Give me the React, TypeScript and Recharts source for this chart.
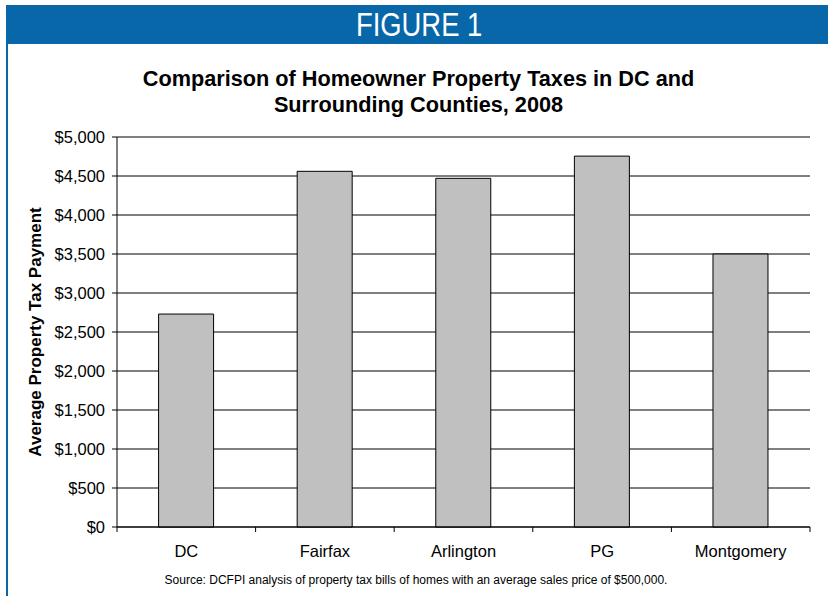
import React from 'react';
import { BarChart, Bar, XAxis, YAxis, CartesianGrid, Label } from 'recharts';

const counties: string[] = ['DC', 'Fairfax', 'Arlington', 'PG', 'Montgomery'];
const taxPayments: number[] = [2730, 4560, 4470, 4755, 3500];
const yTicks: number[] = [0, 500, 1000, 1500, 2000, 2500, 3000, 3500, 4000, 4500, 5000];

const data = counties.map((name, i) => ({ name, tax: taxPayments[i] }));

const W = 828;
const H = 596;
const margin = { top: 137, right: 18, bottom: 39, left: 17 };
const yAxisWidth = 100;
const step = (W - margin.left - margin.right - yAxisWidth) / counties.length;
const FONT = 'Arial, "Liberation Sans", Helvetica, sans-serif';

const money = (v: number) => '$' + v.toLocaleString('en-US');

// category ticks sit between bars, label in the middle
const CategoryTick = (props: any) => {
  const { x, y, payload, index } = props;
  const left = x - step / 2;
  return (
    <g>
      <line x1={left} x2={left} y1={y - 8} y2={y - 3} stroke="#000" />
      {index === counties.length - 1 && (
        <line x1={x + step / 2} x2={x + step / 2} y1={y - 8} y2={y - 3} stroke="#000" />
      )}
      <text x={x} y={y + 22} textAnchor="middle" fontSize={16.5} fill="#000" fontFamily={FONT}>
        {payload.value}
      </text>
    </g>
  );
};

const App: React.FC = () => {
  return (
    <div style={{ position: 'absolute', left: 0, top: 0, width: W, height: H, background: '#fff', fontFamily: FONT }}>
      <div
        style={{
          position: 'absolute',
          left: 6,
          top: 5,
          width: W - 6,
          height: 39,
          background: '#0767A9',
        }}
      />
      <div
        style={{
          position: 'absolute',
          left: 0,
          top: 5,
          width: 839,
          height: 39,
          textAlign: 'center',
          color: '#fff',
          fontSize: 33,
          lineHeight: '39px',
        }}
      >
        <span style={{ display: 'inline-block', transform: 'scaleX(0.83)' }}>FIGURE 1</span>
      </div>
      <div style={{ position: 'absolute', left: 6, top: 5, width: 2, height: H - 5, background: '#0767A9' }} />
      <div
        style={{
          position: 'absolute',
          left: 0,
          top: 66,
          width: 837,
          textAlign: 'center',
          fontWeight: 'bold',
          fontSize: 21.7,
          lineHeight: '26px',
          color: '#000',
        }}
      >
        Comparison of Homeowner Property Taxes in DC and
        <br />
        Surrounding Counties, 2008
      </div>
      <div style={{ position: 'absolute', left: 0, top: 0 }}>
        <BarChart width={W} height={H} data={data} margin={margin} barCategoryGap="30%">
          <CartesianGrid vertical={false} stroke="#000" />
          <XAxis
            dataKey="name"
            stroke="#000"
            tickLine={false}
            interval={0}
            tick={<CategoryTick />}
          />
          <YAxis
            width={yAxisWidth}
            domain={[0, 5000]}
            ticks={yTicks}
            tickFormatter={money}
            stroke="#000"
            tickSize={5}
            tickMargin={7}
            tick={{ fontSize: 16.5, fill: '#000', fontFamily: FONT }}
          >
            <Label
              value="Average Property Tax Payment"
              angle={-90}
              position="insideLeft"
              offset={18}
              style={{ fontSize: 17, fontWeight: 'bold', fill: '#000', fontFamily: FONT, textAnchor: 'middle' }}
            />
          </YAxis>
          <Bar dataKey="tax" fill="#C0C0C0" stroke="#000" strokeWidth={1} isAnimationActive={false} />
        </BarChart>
      </div>
      <div
        style={{
          position: 'absolute',
          left: 0,
          top: 573,
          width: 832,
          textAlign: 'center',
          fontSize: 12,
          color: '#000',
        }}
      >
        Source: DCFPI analysis of property tax bills of homes with an average sales price of $500,000.
      </div>
    </div>
  );
};

export default App;
